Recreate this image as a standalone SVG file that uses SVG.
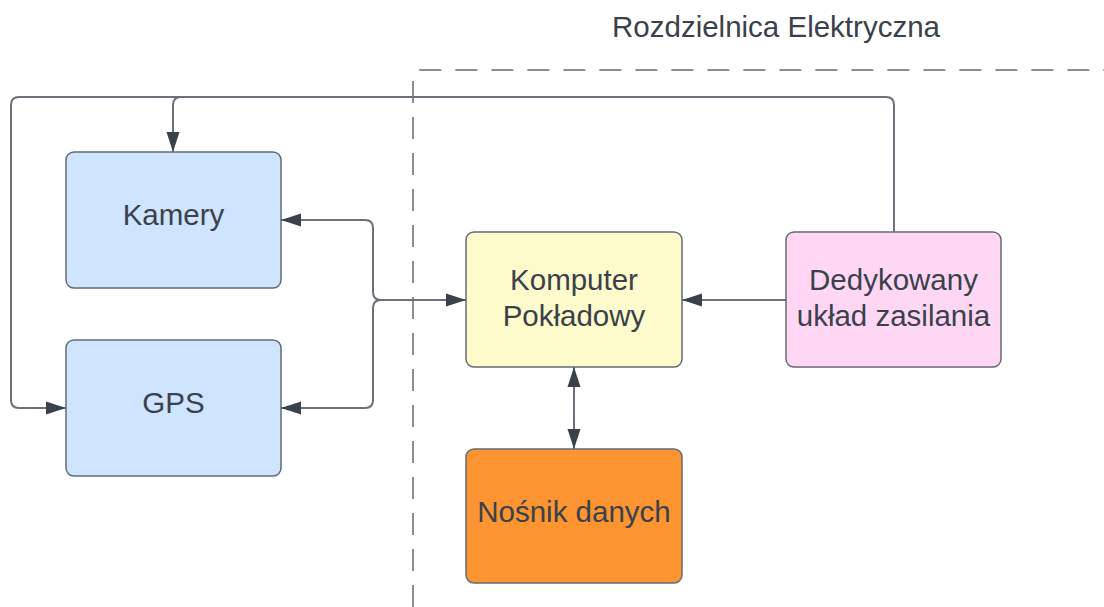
<svg xmlns="http://www.w3.org/2000/svg" width="1104" height="607" viewBox="0 0 1104 607">
  <style>
    .box { stroke: #646b74; stroke-width: 1.5; }
    .lbl { font-family: "Liberation Sans", Arial, sans-serif; font-size: 29.5px; fill: #3a414a; text-anchor: middle; }
    .wire { fill: none; stroke: #6b7079; stroke-width: 2; }
    .zone { fill: none; stroke: #8a8e95; stroke-width: 2; stroke-dasharray: 22 14; }
  </style>
  <defs>
    <marker id="arrow" viewBox="0 0 20 14" refX="20" refY="7" markerWidth="20" markerHeight="14" markerUnits="userSpaceOnUse" orient="auto-start-reverse">
      <path d="M0,0.5 L20,7 L0,13.5 Z" fill="#3a414a"/>
    </marker>
  </defs>

  <rect width="1104" height="607" fill="#ffffff"/>

  <!-- switchboard boundary -->
  <g id="switchboard">
    <path class="zone" d="M413,607 L413,78 Q413,70 421,70 L1104,70"/>
    <text class="lbl" x="776" y="37">Rozdzielnica Elektryczna</text>
  </g>

  <!-- connectors -->
  <g id="connectors">
    <!-- power supply feeding cameras and GPS -->
    <path class="wire" d="M894,232 L894,105 Q894,97 886,97 L19,97 Q11,97 11,105 L11,400 Q11,408 19,408 L66,408" marker-end="url(#arrow)"/>
    <path class="wire" d="M181,97 Q173,97 173,105 L173,152" marker-end="url(#arrow)"/>
    <!-- power supply to computer -->
    <path class="wire" d="M786,300 L682,300" marker-end="url(#arrow)"/>
    <!-- cameras / GPS to computer -->
    <path class="wire" d="M281,220 L365,220 Q373,220 373,228 L373,292 Q373,300 381,300 L466,300" marker-start="url(#arrow)" marker-end="url(#arrow)"/>
    <path class="wire" d="M281,408 L365,408 Q373,408 373,400 L373,308 Q373,300 381,300" marker-start="url(#arrow)"/>
    <!-- computer to storage -->
    <path class="wire" d="M574,367 L574,449" marker-start="url(#arrow)" marker-end="url(#arrow)"/>
  </g>

  <g id="kamery">
    <rect class="box" x="66" y="152" width="215" height="136" rx="8" fill="#cfe4ff"/>
    <text class="lbl" x="173.5" y="225">Kamery</text>
  </g>

  <g id="gps">
    <rect class="box" x="66" y="340" width="215" height="136" rx="8" fill="#cfe4ff"/>
    <text class="lbl" x="173.5" y="413">GPS</text>
  </g>

  <g id="komputer">
    <rect class="box" x="466" y="232" width="216" height="135" rx="8" fill="#fdfbcb"/>
    <text class="lbl" x="574" y="290">Komputer</text>
    <text class="lbl" x="574" y="326">Pokładowy</text>
  </g>

  <g id="zasilanie">
    <rect class="box" x="786" y="232" width="215" height="135" rx="8" fill="#ffd7f5"/>
    <text class="lbl" x="893.5" y="290">Dedykowany</text>
    <text class="lbl" x="893.5" y="326">układ zasilania</text>
  </g>

  <g id="nosnik">
    <rect class="box" x="466" y="449" width="216" height="134" rx="8" fill="#fb9431"/>
    <text class="lbl" x="574" y="522">Nośnik danych</text>
  </g>
</svg>
